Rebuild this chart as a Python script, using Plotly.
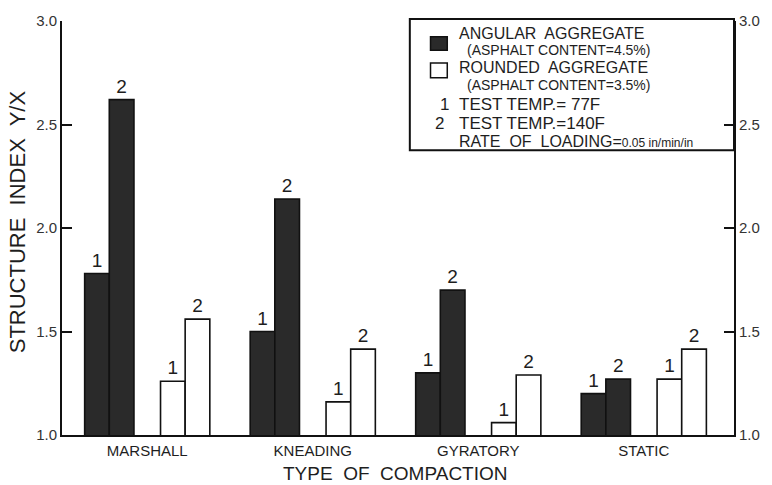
import plotly.graph_objects as go

# ---------------- data ----------------
categories = ["MARSHALL", "KNEADING", "GYRATORY", "STATIC"]
angular_77 = [1.78, 1.50, 1.30, 1.20]
angular_140 = [2.62, 2.14, 1.70, 1.27]
rounded_77 = [1.26, 1.16, 1.06, 1.27]
rounded_140 = [1.56, 1.415, 1.29, 1.415]
y_ticks = [1.0, 1.5, 2.0, 2.5, 3.0]
y_ticktext = ["1.0", "1.5", "2.0", "2.5", "3.0"]

# ---------------- layout geometry ----------------
W, H = 772, 485
L, R, T, B = 62, 28, 12, 50
PW, PH = W - L - R, H - T - B

def px(x):
    return (x - L) / PW

def py(y):
    return (H - B - y) / PH

FONT = "Liberation Sans, Arial, sans-serif"
INK = "#1e1e1e"
DARK = "#2a2a2a"

offsets = [-0.3036, -0.1548, 0.1548, 0.3036]
bar_w = 0.149

series = [
    (angular_77, DARK, "1"),
    (angular_140, DARK, "2"),
    (rounded_77, "white", "1"),
    (rounded_140, "white", "2"),
]

fig = go.Figure()
for (vals, color, lab), off in zip(series, offsets):
    fig.add_trace(go.Bar(
        x=[i + off for i in range(len(categories))],
        y=vals,
        width=bar_w,
        marker=dict(color=color, line=dict(color="#111", width=1.6)),
        text=[lab] * len(vals),
        textposition="outside",
        constraintext="none",
        cliponaxis=False,
        textfont=dict(family=FONT, size=19, color=INK),
        showlegend=False,
        hoverinfo="skip",
    ))

# invisible trace for the right axis
fig.add_trace(go.Scatter(x=[0], y=[1], yaxis="y2", mode="markers",
                         marker=dict(opacity=0), showlegend=False, hoverinfo="skip"))

axis_common = dict(range=[1.0, 3.0], tickvals=y_ticks, ticktext=y_ticktext,
                   ticks="inside", ticklen=10, tickwidth=2, tickcolor="#111",
                   showline=True, linecolor="#111", linewidth=2,
                   showgrid=False, zeroline=False,
                   tickfont=dict(family=FONT, size=15, color="#333"))

fig.update_layout(
    width=W, height=H,
    margin=dict(l=L, r=R, t=T, b=B),
    paper_bgcolor="white", plot_bgcolor="white",
    barmode="overlay",
    xaxis=dict(range=[-0.515, 3.545], tickvals=list(range(len(categories))),
               ticktext=categories, showline=True, linecolor="#111", linewidth=2,
               ticks="", showgrid=False, zeroline=False, ticklabelstandoff=1,
               tickfont=dict(family=FONT, size=15, color=INK)),
    yaxis=dict(**axis_common),
    yaxis2=dict(**axis_common, overlaying="y", side="right"),
)

annotations = [
    dict(text="TYPE  OF  COMPACTION", x=px(400), y=py(474), font=dict(size=19)),
    dict(text="STRUCTURE  INDEX  Y/X", x=px(17), y=py(217), textangle=-90, font=dict(size=22)),
    dict(text="ANGULAR  AGGREGATE", x=px(463), y=py(25), xanchor="left", font=dict(size=16)),
    dict(text="(ASPHALT CONTENT=4.5%)", x=px(471), y=py(42), xanchor="left", font=dict(size=14)),
    dict(text="ROUNDED  AGGREGATE", x=px(463), y=py(60), xanchor="left", font=dict(size=16)),
    dict(text="(ASPHALT CONTENT=3.5%)", x=px(471), y=py(77), xanchor="left", font=dict(size=14)),
    dict(text="1", x=px(450), y=py(97), font=dict(size=17)),
    dict(text="TEST TEMP.= 77F", x=px(463), y=py(97), xanchor="left", font=dict(size=17)),
    dict(text="2", x=px(445), y=py(117), font=dict(size=17)),
    dict(text="TEST TEMP.=140F", x=px(463), y=py(117), xanchor="left", font=dict(size=17)),
    dict(text="RATE  OF  LOADING=<span style=\"font-size:12px\">0.05 in/min/in</span>",
         x=px(463), y=py(135), xanchor="left", font=dict(size=16)),
]
for a in annotations:
    a.setdefault("xanchor", "center")
    a["yanchor"] = "middle"
    a["xref"] = "paper"
    a["yref"] = "paper"
    a["showarrow"] = False
    a["font"] = dict(family=FONT, color=INK, size=a["font"]["size"])
    fig.add_annotation(**a)

shapes = [
    dict(type="rect", x0=px(415), x1=px(744), y0=py(144), y1=py(10),
         line=dict(color="#111", width=2), fillcolor="rgba(0,0,0,0)"),
    dict(type="rect", x0=px(436), x1=px(453), y0=py(42), y1=py(28),
         line=dict(color="#111", width=1.5), fillcolor=DARK),
    dict(type="rect", x0=px(436), x1=px(453), y0=py(70), y1=py(55),
         line=dict(color="#111", width=1.5), fillcolor="white"),
]
for s in shapes:
    s["xref"] = "paper"
    s["yref"] = "paper"
    fig.add_shape(**s)

fig.write_html("out.html")
